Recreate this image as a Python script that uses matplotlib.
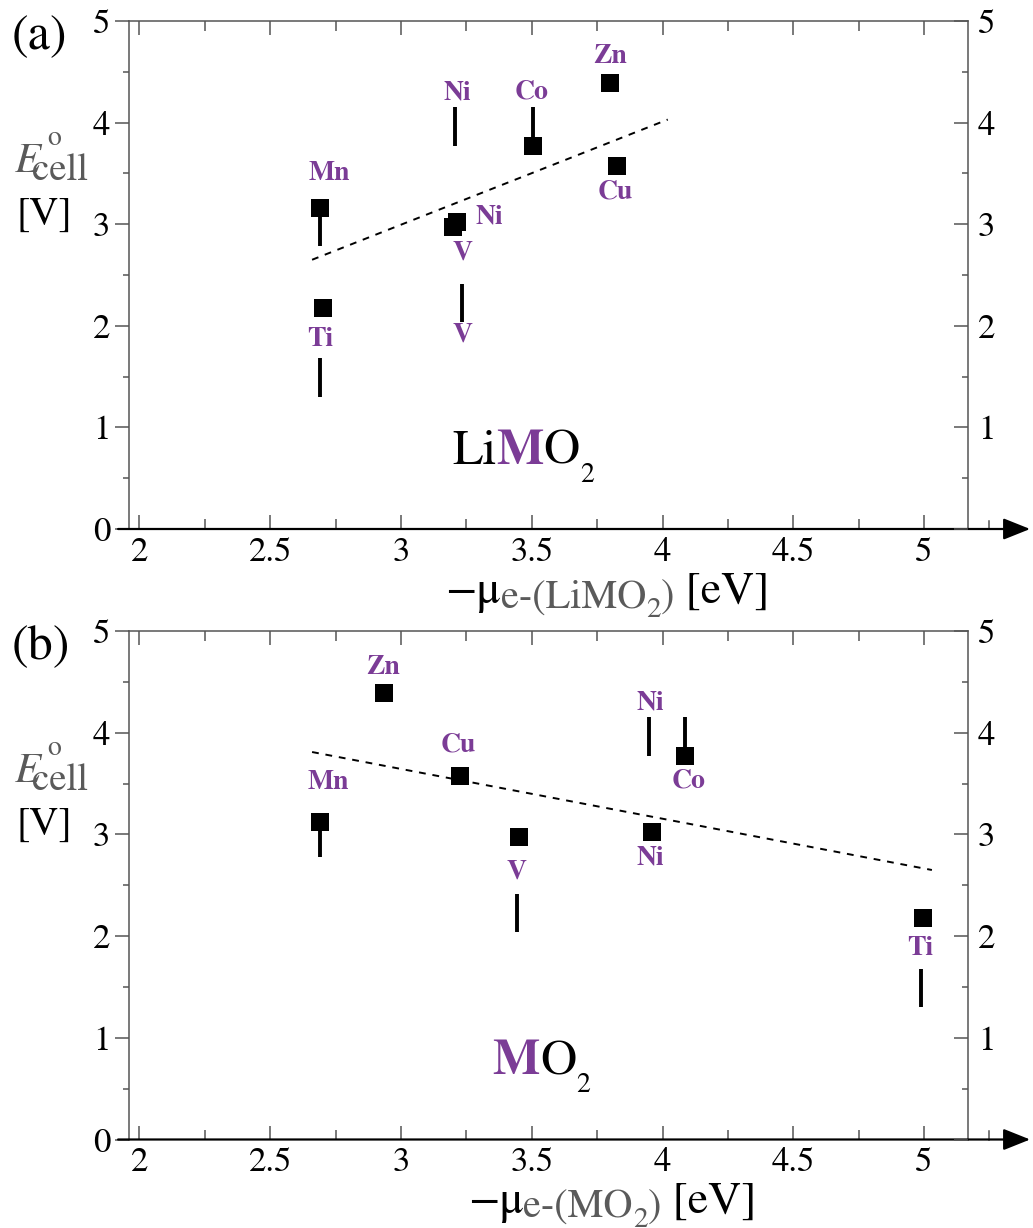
import matplotlib
matplotlib.use('Agg')
import matplotlib.pyplot as plt
from matplotlib.ticker import MultipleLocator, FuncFormatter
from matplotlib.transforms import IdentityTransform

# Times-like font shipped with matplotlib
plt.rcParams['font.family'] = ['STIXGeneral', 'DejaVu Serif']
plt.rcParams['mathtext.fontset'] = 'stix'

PURPLE = '#7b3c96'
GREY = '#5a5a5a'
AXC = '#555555'
W, H = 1033, 1228

# (a) LiMO2 : calculated E_cell vs -mu_e
mu_a = [2.69, 2.70, 3.20, 3.215, 3.505, 3.80, 3.825]       # Mn Ti V Ni Co Zn Cu
ecell_a = [3.16, 2.18, 2.97, 3.02, 3.77, 4.39, 3.57]
# experimental ranges (the black bars)
bar_x_a = [2.69, 2.69, 3.205, 3.505, 3.235]                # Mn Ti Ni Co V
bar_lo_a = [2.79, 1.30, 3.77, 3.77, 2.04]
bar_hi_a = [3.16, 1.68, 4.15, 4.15, 2.41]
fit_x_a = [2.66, 4.02]
fit_y_a = [2.65, 4.03]
labels_a = [('Mn', 2.725, 3.50), ('Ti', 2.69, 1.87), ('Ni', 3.215, 4.29),
            ('Ni', 3.337, 3.07), ('V', 3.234, 2.72), ('V', 3.234, 1.91),
            ('Co', 3.50, 4.30), ('Zn', 3.80, 4.65), ('Cu', 3.82, 3.32)]

# (b) MO2
mu_b = [2.935, 3.227, 2.69, 3.45, 3.96, 4.087, 4.997]      # Zn Cu Mn V Ni Co Ti
ecell_b = [4.39, 3.57, 3.12, 2.97, 3.02, 3.77, 2.18]
bar_x_b = [2.69, 3.444, 3.95, 4.087, 4.99]                 # Mn V Ni Co Ti
bar_lo_b = [2.78, 2.04, 3.77, 3.77, 1.30]
bar_hi_b = [3.12, 2.41, 4.15, 4.15, 1.68]
fit_x_b = [2.66, 5.03]
fit_y_b = [3.81, 2.65]
labels_b = [('Zn', 2.93, 4.64), ('Cu', 3.22, 3.875), ('Mn', 2.724, 3.51),
            ('V', 3.443, 2.63), ('Ni', 3.952, 4.29), ('Co', 4.10, 3.525),
            ('Ni', 3.954, 2.765), ('Ti', 4.985, 1.88)]

fig = plt.figure(figsize=(W / 100, H / 100), dpi=100)


def put(x, y, s, size, color='k', **kw):
    # x, y in picture pixels from top-left, y is the baseline
    return fig.text(x, H - y, s, transform=IdentityTransform(), fontsize=size,
                    color=color, ha='left', va='baseline', **kw)


def rich(x, y, pieces):
    r = fig.canvas.get_renderer()
    for s, size, color, kw, dy in pieces:
        t = put(x, y + dy, s, size, color, **kw)
        x += t.get_window_extent(r).width


def panel(top, bottom, mu, ecell, bx, blo, bhi, fx, fy, labels):
    ax = fig.add_axes([129 / W, 1 - bottom / H, 839 / W, (bottom - top) / H])
    ax.plot(fx, fy, ls=(0, (3.5, 3.5)), color='k', lw=1.4)
    ax.vlines(bx, blo, bhi, color='k', lw=2.8)
    ax.plot(mu, ecell, 's', color='k', ms=13.5, mew=0, zorder=5)
    for s, x, y in labels:
        ax.text(x, y, s, color=PURPLE, fontsize=20, fontweight='bold',
                ha='center', va='center')

    ax.set_xlim(1.96, 5.168)
    ax.set_ylim(0, 5)
    ax.xaxis.set_major_locator(MultipleLocator(0.5))
    ax.xaxis.set_minor_locator(MultipleLocator(0.25))
    ax.xaxis.set_major_formatter(FuncFormatter(lambda v, p: '%g' % v))
    ax.yaxis.set_major_locator(MultipleLocator(1))
    ax.yaxis.set_minor_locator(MultipleLocator(0.5))
    ax.tick_params(axis='x', which='both', direction='in', top=True, bottom=True,
                   color=AXC, width=1.1, labelsize=25, pad=5.5)
    ax.tick_params(axis='x', which='major', length=10)
    ax.tick_params(axis='x', which='minor', length=7)
    ax.tick_params(axis='y', which='both', direction='out', left=True, right=False,
                   color=AXC, width=1.1, labelsize=25, pad=3.5)
    ax.tick_params(axis='y', which='major', length=10)
    ax.tick_params(axis='y', which='minor', length=4.5)
    for side in ['left', 'right', 'top']:
        ax.spines[side].set_color(AXC)
        ax.spines[side].set_linewidth(1.1)
    ax.spines['bottom'].set_visible(False)

    # right axis: ticks point inward, no 0 label
    ax2 = ax.twinx()
    ax2.set_ylim(0, 5)
    ax2.yaxis.set_major_locator(MultipleLocator(1))
    ax2.yaxis.set_minor_locator(MultipleLocator(0.5))
    ax2.yaxis.set_major_formatter(FuncFormatter(lambda v, p: '' if v == 0 else '%g' % v))
    ax2.tick_params(axis='y', which='both', direction='in', right=True,
                    color=AXC, width=1.1, labelsize=25, pad=7)
    ax2.tick_params(axis='y', which='major', length=10)
    ax2.tick_params(axis='y', which='minor', length=4.5)
    for sp in ax2.spines.values():
        sp.set_visible(False)

    # x axis drawn as an arrow
    ax.annotate('', xy=(1.074, 0), xytext=(-0.013, 0), xycoords='axes fraction',
                textcoords='axes fraction', annotation_clip=False,
                arrowprops=dict(arrowstyle='-|>,head_length=0.55,head_width=0.22',
                                color='k', lw=1.6, shrinkA=0, shrinkB=0,
                                mutation_scale=30))
    ax.plot([5.25, 5.25], [0, 0.016], transform=ax.get_xaxis_transform(),
            color=AXC, lw=1.1, clip_on=False)
    return ax


ax_a = panel(21, 529, mu_a, ecell_a, bar_x_a, bar_lo_a, bar_hi_a,
             fit_x_a, fit_y_a, labels_a)
ax_b = panel(631, 1139.5, mu_b, ecell_b, bar_x_b, bar_lo_b, bar_hi_b,
             fit_x_b, fit_y_b, labels_b)

# compound names inside the panels
for ax, x0, name in [(ax_a, 3.195, [('Li', 36, 'k', {}, 0)]), (ax_b, 3.35, [])]:
    px, py = ax.transData.transform((x0, 0.64))
    rich(px, H - py, name + [('M', 36, PURPLE, {'fontweight': 'bold'}, 0),
                             ('O', 36, 'k', {}, 0), ('2', 20, 'k', {}, 18)])

# panel tags, y labels, x labels
for off, tag, sub, xstart in [(0, '(a)', 'e-(LiMO', 445), (610, '(b)', 'e-(MO', 468)]:
    put(12, 49 + off, tag, 36)
    put(14, 172 + off, 'E', 31, GREY, style='italic')
    put(47, 145 + off, 'o', 20, GREY)
    put(32, 180 + off, 'cell', 28, GREY)
    put(16, 225 + off, '[V]', 29)
    rich(xstart, 603 + off, [('\u2212\u03bc', 33, 'k', {}, 0),
                             (sub, 29, GREY, {}, 5),
                             ('2', 21, GREY, {}, 14),
                             (')', 29, GREY, {}, 5),
                             (' [eV]', 33, 'k', {}, 0)])

fig.savefig('out.png', dpi=100)
